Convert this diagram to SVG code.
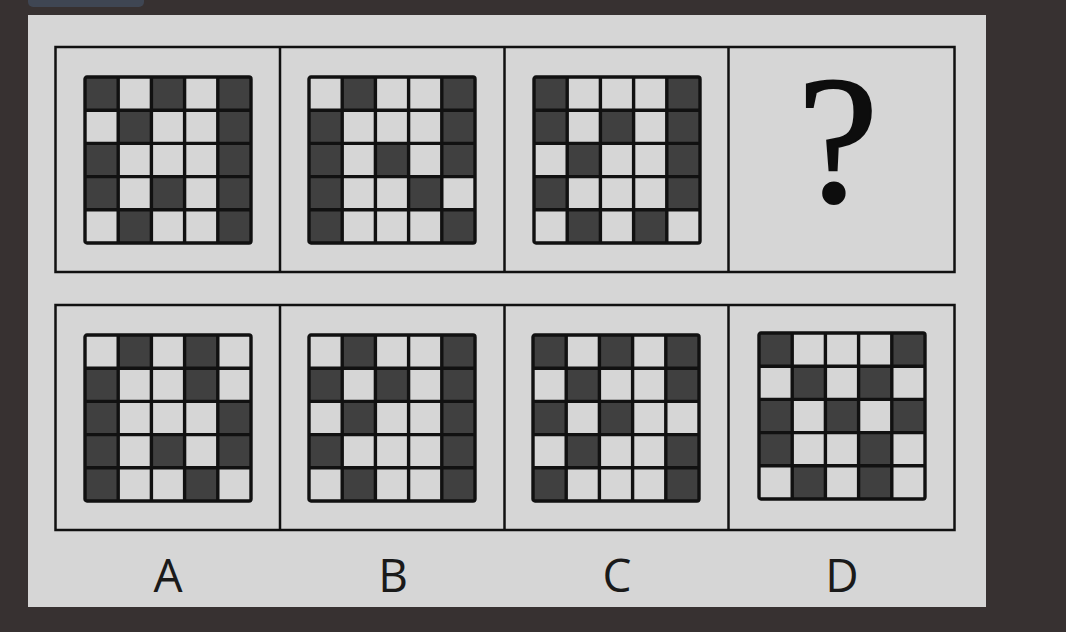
<svg xmlns="http://www.w3.org/2000/svg" xmlns:xlink="http://www.w3.org/1999/xlink" width="1066" height="632" viewBox="0 0 1066 632">
<style>
.frame{fill:none;stroke:#111;stroke-width:2.5}
.div{stroke:#111;stroke-width:2.5}
.light{fill:#d6d6d6}
.dark{fill:#404040}
.lines{fill:none;stroke:#111;stroke-width:3.4}
.lbl{font-family:"Open Sans","Liberation Sans",sans-serif;font-size:46px;fill:#1a1a1a;text-anchor:middle}
.q{font-family:"Liberation Serif",serif;font-size:182px;fill:#0d0d0d;stroke:#0d0d0d;stroke-width:2;text-anchor:middle}
</style>
<defs>
<g id="gridlines">
<rect class="lines" x="0" y="0" width="166" height="166" rx="2"/>
<path class="lines" d="M33.2 0V166M66.4 0V166M99.6 0V166M132.8 0V166M0 33.2H166M0 66.4H166M0 99.6H166M0 132.8H166"/>
</g>
<rect id="c" class="dark" width="33.2" height="33.2"/>
</defs>
<rect x="0" y="0" width="1066" height="632" fill="#373131"/>
<rect x="28" y="-6" width="116" height="13" rx="5" fill="#3f4653"/>
<rect x="28" y="15" width="958" height="592" fill="#d6d6d6"/>

<g id="frames">
<rect class="frame" x="55.5" y="47" width="899" height="225"/>
<line class="div" x1="280" y1="47" x2="280" y2="272"/>
<line class="div" x1="504.5" y1="47" x2="504.5" y2="272"/>
<line class="div" x1="728.5" y1="47" x2="728.5" y2="272"/>
<rect class="frame" x="55.5" y="305" width="899" height="225"/>
<line class="div" x1="280" y1="305" x2="280" y2="530"/>
<line class="div" x1="504.5" y1="305" x2="504.5" y2="530"/>
<line class="div" x1="728.5" y1="305" x2="728.5" y2="530"/>
</g>

<g id="q1" transform="translate(85,77)">
<rect class="light" width="166" height="166"/>
<use xlink:href="#c" x="0" y="0"/><use xlink:href="#c" x="66.4" y="0"/><use xlink:href="#c" x="132.8" y="0"/>
<use xlink:href="#c" x="33.2" y="33.2"/><use xlink:href="#c" x="132.8" y="33.2"/>
<use xlink:href="#c" x="0" y="66.4"/><use xlink:href="#c" x="132.8" y="66.4"/>
<use xlink:href="#c" x="0" y="99.6"/><use xlink:href="#c" x="66.4" y="99.6"/><use xlink:href="#c" x="132.8" y="99.6"/>
<use xlink:href="#c" x="33.2" y="132.8"/><use xlink:href="#c" x="132.8" y="132.8"/>
<use xlink:href="#gridlines"/>
</g>

<g id="q2" transform="translate(309,77)">
<rect class="light" width="166" height="166"/>
<use xlink:href="#c" x="33.2" y="0"/><use xlink:href="#c" x="132.8" y="0"/>
<use xlink:href="#c" x="0" y="33.2"/><use xlink:href="#c" x="132.8" y="33.2"/>
<use xlink:href="#c" x="0" y="66.4"/><use xlink:href="#c" x="66.4" y="66.4"/><use xlink:href="#c" x="132.8" y="66.4"/>
<use xlink:href="#c" x="0" y="99.6"/><use xlink:href="#c" x="99.6" y="99.6"/>
<use xlink:href="#c" x="0" y="132.8"/><use xlink:href="#c" x="132.8" y="132.8"/>
<use xlink:href="#gridlines"/>
</g>

<g id="q3" transform="translate(534,77)">
<rect class="light" width="166" height="166"/>
<use xlink:href="#c" x="0" y="0"/><use xlink:href="#c" x="132.8" y="0"/>
<use xlink:href="#c" x="0" y="33.2"/><use xlink:href="#c" x="66.4" y="33.2"/><use xlink:href="#c" x="132.8" y="33.2"/>
<use xlink:href="#c" x="33.2" y="66.4"/><use xlink:href="#c" x="132.8" y="66.4"/>
<use xlink:href="#c" x="0" y="99.6"/><use xlink:href="#c" x="132.8" y="99.6"/>
<use xlink:href="#c" x="33.2" y="132.8"/><use xlink:href="#c" x="99.6" y="132.8"/>
<use xlink:href="#gridlines"/>
</g>

<g id="q4">
<text class="q" x="838" y="201">?</text>
</g>

<g id="optA" transform="translate(85,335)">
<rect class="light" width="166" height="166"/>
<use xlink:href="#c" x="33.2" y="0"/><use xlink:href="#c" x="99.6" y="0"/>
<use xlink:href="#c" x="0" y="33.2"/><use xlink:href="#c" x="99.6" y="33.2"/>
<use xlink:href="#c" x="0" y="66.4"/><use xlink:href="#c" x="132.8" y="66.4"/>
<use xlink:href="#c" x="0" y="99.6"/><use xlink:href="#c" x="66.4" y="99.6"/><use xlink:href="#c" x="132.8" y="99.6"/>
<use xlink:href="#c" x="0" y="132.8"/><use xlink:href="#c" x="99.6" y="132.8"/>
<use xlink:href="#gridlines"/>
</g>

<g id="optB" transform="translate(309,335)">
<rect class="light" width="166" height="166"/>
<use xlink:href="#c" x="33.2" y="0"/><use xlink:href="#c" x="132.8" y="0"/>
<use xlink:href="#c" x="0" y="33.2"/><use xlink:href="#c" x="66.4" y="33.2"/><use xlink:href="#c" x="132.8" y="33.2"/>
<use xlink:href="#c" x="33.2" y="66.4"/><use xlink:href="#c" x="132.8" y="66.4"/>
<use xlink:href="#c" x="0" y="99.6"/><use xlink:href="#c" x="132.8" y="99.6"/>
<use xlink:href="#c" x="33.2" y="132.8"/><use xlink:href="#c" x="132.8" y="132.8"/>
<use xlink:href="#gridlines"/>
</g>

<g id="optC" transform="translate(533,335)">
<rect class="light" width="166" height="166"/>
<use xlink:href="#c" x="0" y="0"/><use xlink:href="#c" x="66.4" y="0"/><use xlink:href="#c" x="132.8" y="0"/>
<use xlink:href="#c" x="33.2" y="33.2"/><use xlink:href="#c" x="132.8" y="33.2"/>
<use xlink:href="#c" x="0" y="66.4"/><use xlink:href="#c" x="66.4" y="66.4"/>
<use xlink:href="#c" x="33.2" y="99.6"/><use xlink:href="#c" x="132.8" y="99.6"/>
<use xlink:href="#c" x="0" y="132.8"/><use xlink:href="#c" x="132.8" y="132.8"/>
<use xlink:href="#gridlines"/>
</g>

<g id="optD" transform="translate(759,333)">
<rect class="light" width="166" height="166"/>
<use xlink:href="#c" x="0" y="0"/><use xlink:href="#c" x="132.8" y="0"/>
<use xlink:href="#c" x="33.2" y="33.2"/><use xlink:href="#c" x="99.6" y="33.2"/>
<use xlink:href="#c" x="0" y="66.4"/><use xlink:href="#c" x="66.4" y="66.4"/><use xlink:href="#c" x="132.8" y="66.4"/>
<use xlink:href="#c" x="0" y="99.6"/><use xlink:href="#c" x="99.6" y="99.6"/>
<use xlink:href="#c" x="33.2" y="132.8"/><use xlink:href="#c" x="99.6" y="132.8"/>
<use xlink:href="#gridlines"/>
</g>

<g id="labels">
<text class="lbl" x="168" y="592">A</text>
<text class="lbl" x="393" y="592">B</text>
<text class="lbl" x="617" y="592">C</text>
<text class="lbl" x="842" y="592">D</text>
</g>
</svg>
